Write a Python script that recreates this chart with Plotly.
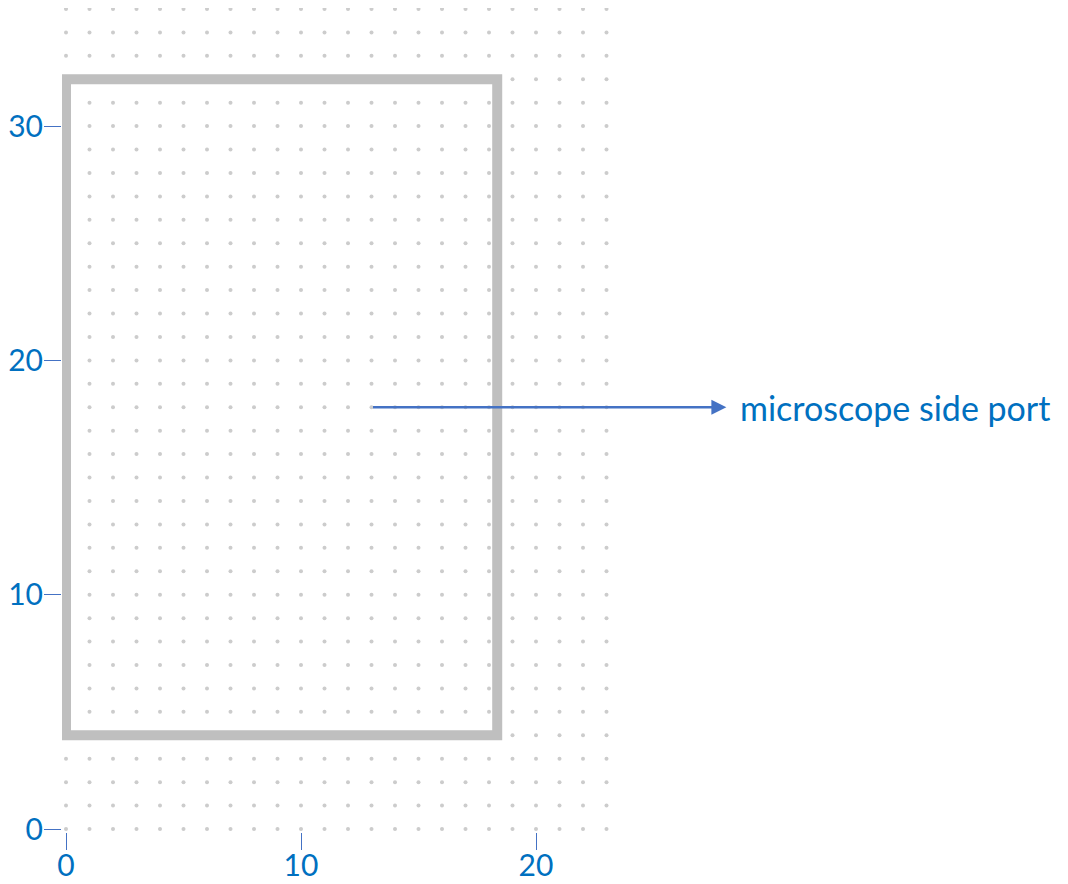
import plotly.graph_objects as go

# grid of dots (integer positions)
dot_cols = list(range(0, 24))
dot_rows = list(range(0, 36))

# rectangle outline
rect_x0, rect_x1 = 0, 18.35
rect_y0, rect_y1 = 4, 32

# arrow
arrow_start = (13, 18)
arrow_end = (28.1, 18)
label_text = "microscope side port"

x_ticks = [0, 10, 20]
y_ticks = [0, 10, 20, 30]

xs = [c for r in dot_rows for c in dot_cols]
ys = [r for r in dot_rows for c in dot_cols]

fig = go.Figure()
fig.add_trace(go.Scatter(x=xs, y=ys, mode="markers",
                         marker=dict(size=4, color="#CCCCCC"),
                         hoverinfo="skip", showlegend=False, cliponaxis=False))

fig.add_shape(type="rect", x0=rect_x0, x1=rect_x1, y0=rect_y0, y1=rect_y1,
              xref="x", yref="y", line=dict(color="#BFBFBF", width=10),
              fillcolor="rgba(0,0,0,0)")

fig.add_annotation(x=arrow_end[0], y=arrow_end[1], ax=arrow_start[0], ay=arrow_start[1],
                   xref="x", yref="y", axref="x", ayref="y", text="",
                   showarrow=True, arrowhead=2, arrowsize=1.2, arrowwidth=2.5,
                   arrowcolor="#4472C4")
fig.add_annotation(x=28.6, y=18, xref="x", yref="y", text=label_text,
                   showarrow=False, xanchor="left", yanchor="middle",
                   font=dict(family="Lato", size=34, color="#0070C0"))

fig.update_xaxes(range=[-0.17, -0.17 + 1006 / 23.5], tickvals=x_ticks,
                 showgrid=False, zeroline=False, showline=False, automargin=False,
                 ticks="outside", ticklen=17, tickwidth=1, tickcolor="#4472C4",
                 ticklabelstandoff=-10,
                 tickfont=dict(family="Lato", size=30, color="#0070C0"))
fig.update_yaxes(range=[-0.128, 821 / 23.43], tickvals=y_ticks,
                 showgrid=False, zeroline=False, showline=False, automargin=False,
                 ticks="outside", ticklen=17, tickwidth=1, tickcolor="#4472C4",
                 ticklabelstandoff=-5,
                 tickfont=dict(family="Lato", size=30, color="#0070C0"))

fig.update_layout(width=1060, height=876, margin=dict(l=54, r=0, t=0, b=52),
                  plot_bgcolor="white", paper_bgcolor="white", showlegend=False)

fig.write_html("out.html")
